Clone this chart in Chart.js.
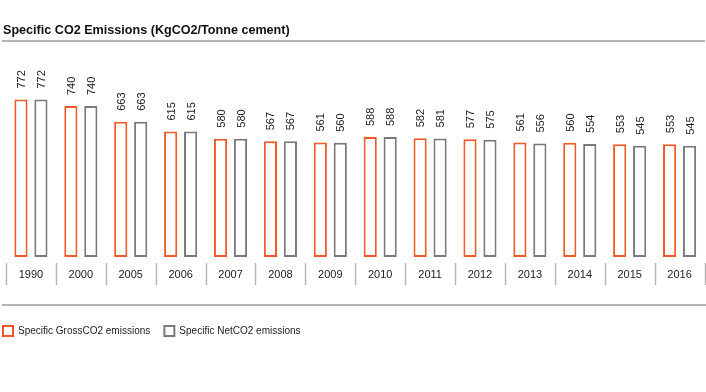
<!DOCTYPE html>
<html>
<head>
<meta charset="utf-8">
<script src="https://cdn.jsdelivr.net/npm/chart.js@4.4.0/dist/chart.umd.min.js"></script>
<style>
  html, body { margin: 0; padding: 0; background: #fff; }
  #wrap { position: relative; width: 706px; height: 392px; }
  #title {
    position: absolute; left: 3px; top: 23px;
    font: bold 12.6px "Liberation Sans", Arial, sans-serif; color: #111;
  }
  #topline { position: absolute; left: 2px; top: 40px; width: 703px; height: 2px; background: #b4b4b4; }
  canvas { position: absolute; left: 0; top: 0; }
</style>
</head>
<body>
<div id="wrap">
  <canvas id="co2Chart" width="706" height="392"></canvas>
  <div id="title">Specific CO2 Emissions (KgCO2/Tonne cement)</div>
  <div id="topline"></div>
</div>
<script>
// --- data ---
const years = ["1990", "2000", "2005", "2006", "2007", "2008", "2009", "2010", "2011", "2012", "2013", "2014", "2015", "2016"];
const grossCO2 = [772, 740, 663, 615, 580, 567, 561, 588, 582, 577, 561, 560, 553, 553];
const netCO2 = [772, 740, 663, 615, 580, 567, 560, 588, 581, 575, 556, 554, 545, 545];

const ORANGE = "#f4592a";
const GREY = "#7a7a7a";
const FONT = "'Liberation Sans', Arial, sans-serif";

// rotated value labels, year separators and bottom rule
const decorPlugin = {
  id: "decor",
  afterDatasetsDraw(chart) {
    const ctx = chart.ctx;
    ctx.save();
    ctx.font = "11px " + FONT;
    ctx.fillStyle = "#222";
    ctx.textAlign = "left";
    ctx.textBaseline = "middle";
    chart.data.datasets.forEach((ds, di) => {
      chart.getDatasetMeta(di).data.forEach((bar, i) => {
        ctx.save();
        ctx.translate(bar.x + 1, bar.y - 11);
        ctx.rotate(-Math.PI / 2);
        ctx.fillText(String(ds.data[i]), 0, 0);
        ctx.restore();
      });
    });

    const x = chart.scales.x;
    const half = (x.getPixelForValue(1) - x.getPixelForValue(0)) / 2;
    ctx.strokeStyle = "#b8b8b8";
    ctx.lineWidth = 1.5;
    for (let i = 0; i <= years.length; i++) {
      const px = Math.round(x.getPixelForValue(i) - half) + 0.5;
      ctx.beginPath();
      ctx.moveTo(px, 263);
      ctx.lineTo(px, 285);
      ctx.stroke();
    }
    ctx.strokeStyle = "#b4b4b4";
    ctx.lineWidth = 2;
    ctx.beginPath();
    ctx.moveTo(2, 305);
    ctx.lineTo(706, 305);
    ctx.stroke();
    ctx.restore();
  }
};

new Chart(document.getElementById("co2Chart"), {
  type: "bar",
  data: {
    labels: years,
    datasets: [
      {
        label: "Specific GrossCO2 emissions\u00a0\u00a0\u00a0\u00a0",
        data: grossCO2,
        backgroundColor: "#ffffff",
        borderColor: ORANGE,
        borderWidth: 2,
        borderSkipped: false,
      },
      {
        label: "Specific NetCO2 emissions",
        data: netCO2,
        backgroundColor: "#ffffff",
        borderColor: GREY,
        borderWidth: 2,
        borderSkipped: false,
      },
    ],
  },
  options: {
    responsive: false,
    animation: false,
    events: [],
    layout: { padding: { left: 0, right: 1.5, top: 53, bottom: 46 } },
    datasets: { bar: { categoryPercentage: 0.8, barPercentage: 0.66 } },
    scales: {
      x: {
        grid: { display: false, drawTicks: false },
        border: { display: false },
        ticks: { color: "#222", font: { family: FONT, size: 11 }, padding: 11, maxRotation: 0 },
        afterFit(scale) { scale.height = 66; },
      },
      y: {
        min: 0, max: 1000,
        grid: { display: false },
        border: { display: false },
        ticks: { display: false },
        afterFit(scale) { scale.width = 6; },
      },
    },
    plugins: {
      tooltip: { enabled: false },
      legend: {
        position: "bottom",
        align: "start",
        labels: {
          color: "#222",
          font: { family: FONT, size: 10 },
          boxWidth: 10,
          boxHeight: 10,
          padding: 3,
        },
      },
    },
  },
  plugins: [decorPlugin],
});
</script>
</body>
</html>
